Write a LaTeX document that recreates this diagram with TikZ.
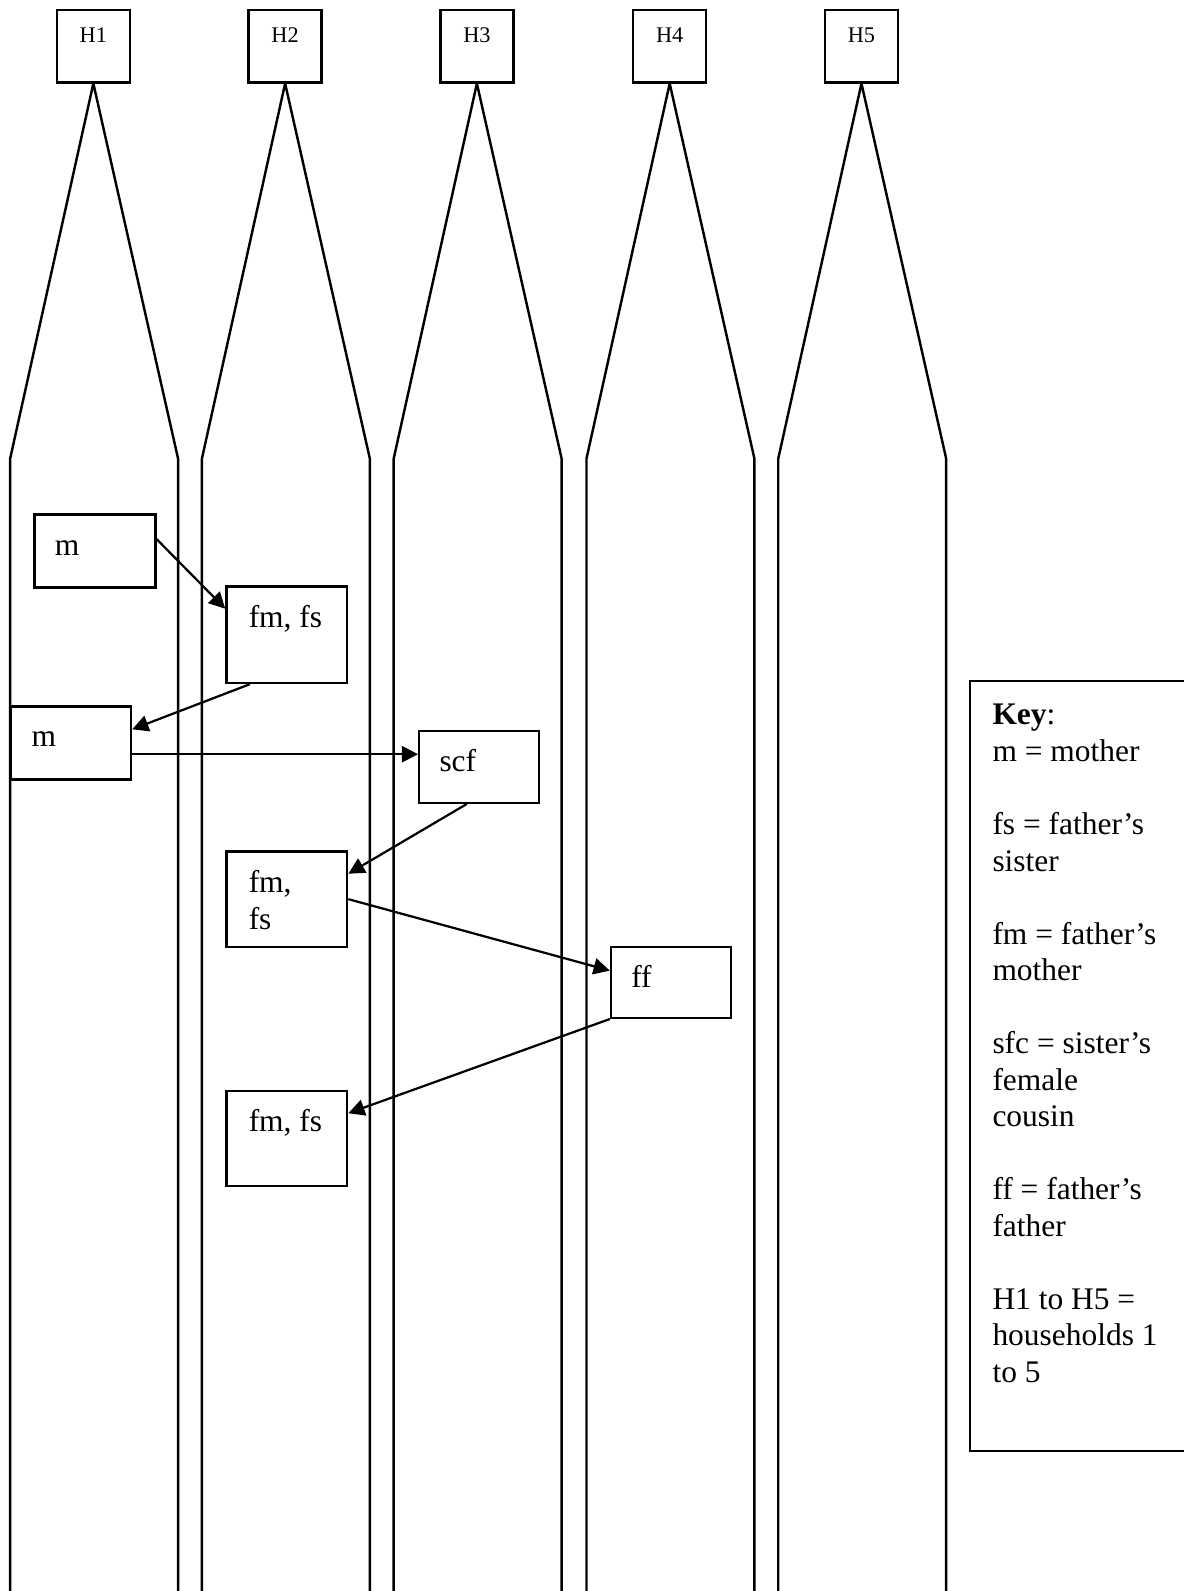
\documentclass[tikz,border=0pt]{standalone}
\usepackage{fontspec}
\setmainfont{Liberation Serif}
\usetikzlibrary{arrows.meta,calc}
\begin{document}
\begin{tikzpicture}[x=0.5pt,y=-0.5pt,
  line width=1.15pt,
  hbox/.style={draw, minimum width=36pt, minimum height=35.5pt, inner sep=0pt, anchor=north},
  htext/.style={anchor=base, inner sep=0pt, font=\fontsize{11}{13}\selectfont},
  pbox/.style={draw, minimum width=59.5pt, inner sep=0pt, anchor=north west},
  intext/.style={anchor=base west, inner sep=0pt, align=left, font=\fontsize{15.5}{18}\selectfont},
  colline/.style={line width=1.2pt, line join=bevel},
  arr/.style={-{Triangle[length=8pt,width=8pt]}, line width=1.1pt}
]
\useasboundingbox (0,0) rectangle (1167,1568);

% household headers and columns
\foreach \c/\n in {92/1,281/2,470/3,660/4,849/5} {
  \node[hbox] (h\n) at (\c,9) {};
  \node[htext] (ht\n) at ([yshift=-16.5pt]h\n.north) {H\n};
  \draw[colline] (\c-82,1568) -- (\c-82,452) -- (h\n.south) -- (\c+83.5,452) -- (\c+83.5,1568);
}

% boxes
\node[pbox, minimum height=36pt] (m1) at (33,506) {};
\node[pbox, minimum height=47.5pt] (fm1) at (222,577) {};
\node[pbox, minimum width=59pt, minimum height=36pt] (m2) at (10,695) {};
\node[pbox, minimum width=59pt, minimum height=35.5pt] (scf) at (412,719) {};
\node[pbox, minimum height=47pt] (fm2) at (222,838) {};
\node[pbox, minimum width=59pt, minimum height=35pt] (ff) at (601,932) {};
\node[pbox, minimum height=47pt] (fm3) at (222,1074) {};

% box texts
\node[intext] (m1t) at ([xshift=10pt,yshift=-20.5pt]m1.north west) {m};
\node[intext] (fm1t) at ([xshift=11pt,yshift=-20.5pt]fm1.north west) {fm, fs};
\node[intext] (m2t) at ([xshift=10pt,yshift=-20.5pt]m2.north west) {m};
\node[intext] (scft) at ([xshift=10pt,yshift=-20.5pt]scf.north west) {scf};
\node[intext, anchor=north west] (fm2t) at ([xshift=11pt,yshift=-9.5pt]fm2.north west) {fm,\\ fs};
\node[intext] (fft) at ([xshift=10pt,yshift=-20.5pt]ff.north west) {ff};
\node[intext] (fm3t) at ([xshift=11pt,yshift=-20.5pt]fm3.north west) {fm, fs};

% arrows
\draw[arr] ($(m1.north east)!0.34!(m1.south east)$) -- ($(fm1.north west)!0.236!(fm1.south west)$);
\draw[arr] ($(fm1.south west)!0.2!(fm1.south east)$) -- ($(m2.north east)!0.32!(m2.south east)$);
\coordinate (a3) at ($(m2.north east)!0.65!(m2.south east)$);
\draw[arr] (a3) -- (a3 -| scf.west);
\draw[arr] ($(scf.south west)!0.4!(scf.south east)$) -- ($(fm2.north east)!0.24!(fm2.south east)$);
\draw[arr] (fm2.east) -- ($(ff.north west)!0.34!(ff.south west)$);
\draw[arr] (ff.south west) -- ($(fm3.north east)!0.24!(fm3.south east)$);

% key
\draw (1167,671) -- (956,671) -- (956,1430) -- (1167,1430);
\node[intext, anchor=north west] (keyt) at (977,693) {\textbf{Key}:\\ m = mother\\[18pt]
fs = father’s\\ sister\\[18pt]
fm = father’s\\ mother\\[18pt]
sfc = sister’s\\ female\\ cousin\\[18pt]
ff = father’s\\ father\\[18pt]
H1 to H5 =\\ households 1\\ to 5};
\end{tikzpicture}
\end{document}
